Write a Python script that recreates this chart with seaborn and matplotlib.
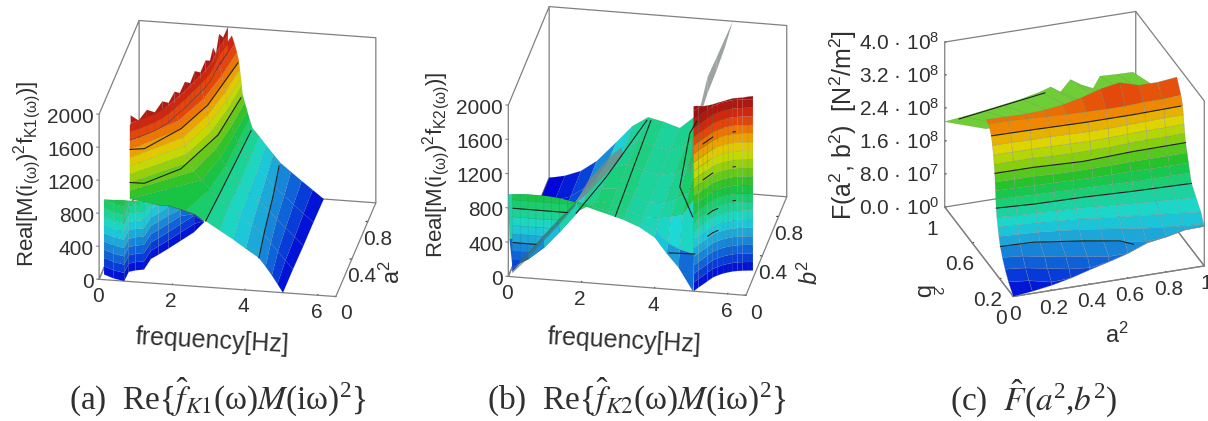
import numpy as np
import matplotlib
matplotlib.use('Agg')
import matplotlib.pyplot as plt
import seaborn as sns

# tick values and labels
freq_ticks = [0, 2, 4, 6]
freq_end = 6.5
depth_ticks = [0, 0.4, 0.8]
depth_labels = ['0', '0.4', '0.8']
real_ticks = [0, 400, 800, 1200, 1600, 2000]
c_a_ticks = [0, 0.2, 0.4, 0.6, 0.8, 1]
c_a_labels = ['0', '0.2', '0.4', '0.6', '0.8', '1']
c_b_ticks = [0, 0.2, 0.6, 1]
c_b_labels = ['0', '0.2', '0.6', '1']
c_z_ticks = [0, 0.8, 1.6, 2.4, 3.2, 4.0]
c_z_labels = ['0.0 · 10$^{0}$', '8.0 · 10$^{7}$', '1.6 · 10$^{8}$', '2.4 · 10$^{8}$', '3.2 · 10$^{8}$', '4.0 · 10$^{8}$']

# frequencies below were read against the box edge, taken as 6 sixths of the axis
to_hz = freq_end / 6

# panel a: frequency where the surface passes each level, one row per a^2
a_levels = [0, 100, 200, 300, 400, 500, 600, 700, 800, 900, 1000, 1100, 1200, 1300, 1400, 1500, 1600, 1700, 1800, 1900]
a_rows = [0, 0.25, 0.5, 0.75, 1]
a_freq = [
    [4.66, 4.52, 4.38, 4.22, 4.05, 3.72, 3.40, 3.05, 2.70, 2.20, 0.78, 0.78, 0.78, 0.78, 0.78, 0.78, 0.78, 0.78, 0.78, 0.78],
    [4.66, 4.47, 4.28, 4.10, 3.92, 3.62, 3.32, 3.03, 2.75, 2.55, 2.35, 2.15, 2.00, 1.96, 1.92, 1.87, 1.82, 1.76, 1.70, 1.63],
    [4.67, 4.45, 4.22, 4.00, 3.80, 3.55, 3.30, 3.05, 2.80, 2.70, 2.57, 2.46, 2.37, 2.33, 2.28, 2.24, 2.20, 2.15, 2.10, 2.00],
    [4.67, 4.42, 4.17, 3.93, 3.69, 3.48, 3.27, 3.05, 2.83, 2.75, 2.67, 2.60, 2.53, 2.50, 2.47, 2.43, 2.40, 2.35, 2.30, 2.22],
    [4.68, 4.40, 4.12, 3.85, 3.58, 3.40, 3.22, 3.05, 2.87, 2.80, 2.74, 2.68, 2.62, 2.60, 2.58, 2.55, 2.53, 2.48, 2.42, 2.35],
]
# jagged crest of panel a
tooth_f = [0.78, 0.95, 1.12, 1.28, 1.42, 1.53, 1.62, 1.70, 1.78, 1.85, 1.92, 2.00, 2.07, 2.12, 2.14, 2.15, 2.16, 2.20, 2.25]
tooth_a = [0.02, 0.05, 0.09, 0.13, 0.18, 0.23, 0.29, 0.34, 0.39, 0.45, 0.50, 0.56, 0.62, 0.68, 0.74, 0.80, 0.87, 0.93, 1.00]
tooth_top = [1990, 1900, 1990, 1920, 2000, 1930, 2000, 1930, 2010, 1930, 2020, 1940, 2020, 1950, 2040, 1900, 2060, 1950, 2000]
# curtain below the front edge of panel a
curtain_f = [0.07, 0.35, 0.635, 0.65, 0.80, 1.00, 1.06, 1.20, 1.38, 1.60, 1.84, 1.98]
curtain_a = [0.054, 0.02, 0.0, 0.10, 0.12, 0.135, 0.25, 0.30, 0.37, 0.46, 0.56, 0.67]
curtain_top = [909, 950, 982, 860, 840, 824, 667, 600, 521, 380, 218, 12]
curtain_levels = [0, 100, 200, 300, 400, 500, 600, 700, 800, 900, 1000]
# contour lines of panel a
a_c400 = ([4.05, 3.90, 3.75, 3.58], [0, 0.3, 0.65, 0.97], 400)
a_c800 = ([2.70, 2.76, 2.82, 2.87], [0, 0.3, 0.65, 0.97], 800)
a_c1200 = ([0.78, 1.14, 1.89, 2.45, 2.62], [0, 0.002, 0.18, 0.56, 0.96], 1200)
a_c1600 = ([0.78, 1.13, 1.82, 2.23, 2.53], [0, 0.02, 0.254, 0.52, 0.98], 1600)

# panel b: surface heights, one row per b^2, one column per frequency
b_freq = [0, 0.4, 0.8, 1.2, 1.7, 2.1, 2.5, 2.9, 3.3, 3.7, 4.0, 4.3, 4.66]
b_rows = [0, 0.03, 0.1, 0.25, 0.5, 0.75, 1]
b_heights = [
    [960, 975, 975, 960, 925, 870, 820, 770, 700, 590, 415, 262, 0],
    [400, 500, 600, 750, 900, 860, 820, 770, 705, 640, 500, 440, 400],
    [0, 100, 250, 450, 720, 840, 830, 770, 700, 700, 730, 760, 1000],
    [0, 0, 200, 500, 720, 815, 830, 760, 700, 700, 770, 850, 1050],
    [0, 0, 100, 350, 620, 770, 830, 770, 730, 770, 850, 950, 1050],
    [0, 40, 100, 230, 500, 650, 830, 760, 730, 800, 900, 1000, 1050],
    [0, 40, 110, 240, 480, 680, 800, 760, 703, 860, 950, 1000, 1050],
]
# triangle at the left of panel b
tri_f = [0.1, 0.3, 0.5, 0.7, 0.9, 1.1, 1.3, 1.5, 1.7]
tri_low = [60, 170, 280, 385, 495, 600, 710, 815, 925]
tri_top = [960, 970, 975, 975, 975, 970, 960, 945, 925]
# grey folds of panel b
fold_f = [0.1, 0.5, 0.9, 1.3, 1.7]
fold_low = [40, 230, 450, 660, 890]
fold_top = [80, 300, 520, 730, 925]
fold2_f = [1.7, 2.0, 2.3, 2.6, 2.87]
fold2_low = [923, 1040, 1200, 1360, 1500]
fold2_top = [923, 1180, 1350, 1510, 1620]
sliver_f = [3.55, 3.65, 3.75, 3.86, 4.0, 4.23, 4.44, 4.64]
sliver_low = [110, 520, 760, 930, 1135, 1410, 1690, 2000]
sliver_top = [260, 660, 850, 1050, 1325, 1565, 1790, 2000]
# right wall of panel b
wall_f = [4.68, 4.76, 4.84, 4.92, 5.01, 5.11, 5.22, 5.33, 5.44, 5.55, 5.67, 5.80, 5.92]
wall_a = [0.0, 0.04, 0.074, 0.11, 0.15, 0.175, 0.197, 0.212, 0.225, 0.233, 0.24, 0.245, 0.25]
wall_top = [2160, 2120, 2080, 2050, 2020, 2015, 2010, 2015, 2020, 2020, 2020, 2030, 2035]
wall_levels = [0, 100, 200, 300, 400, 500, 600, 700, 800, 900, 1000, 1100, 1200, 1300, 1400, 1500, 1600, 1700, 1800, 1900, 2000, 2100, 2200]
# contour lines of panel b
b_lines = [
    ([2.70, 2.60], [0, 0.97], [800, 800]),
    ([1.71, 2.08, 2.50], [0, 0.38, 0.97], [800, 800, 800]),
    ([4.60, 3.98, 3.68, 3.73], [0.056, 0.34, 0.875, 1.0], [800, 800, 800, 800]),
    ([0.12, 0.8, 1.5], [0, 0, 0], [800, 800, 800]),
    ([0.12, 0.4, 0.7], [0, 0, 0], [400, 400, 400]),
    ([4.03, 4.35, 4.68], [0.02, 0.025, 0.03], [400, 400, 400]),
    ([4.92, 5.01, 5.11], [0.11, 0.15, 0.175], [523, 523, 523]),
    ([4.92, 5.01, 5.11], [0.11, 0.15, 0.175], [780, 780, 780]),
    ([4.84, 4.92, 5.01], [0.074, 0.11, 0.15], [1220, 1220, 1220]),
    ([4.84, 4.92, 5.01], [0.074, 0.11, 0.15], [1640, 1640, 1640]),
    ([5.44, 5.50], [0.225, 0.23], [825, 825]),
    ([5.44, 5.50], [0.225, 0.23], [1220, 1220]),
    ([5.44, 5.50], [0.225, 0.23], [1628, 1628]),
]

# panel c: b^2 where the surface passes each level, one row per level
c_columns = [0, 0.1, 0.2, 0.3, 0.4, 0.5, 0.6, 0.7, 0.8, 0.9, 1]
c_levels = [0, 0.2, 0.4, 0.6, 0.8, 1.0, 1.2, 1.4, 1.6, 1.8, 2.0, 2.2, 2.4, 2.6, 2.8, 3.0, 3.2, 3.4, 3.9]
c_b = [
    [0, 0, 0, 0, 0, 0, 0, 0, 0, 0, 0],
    [0.07, 0.05, 0, 0, 0, 0, 0, 0, 0, 0, 0],
    [0.12, 0.10, 0.06, 0.02, 0, 0, 0, 0, 0, 0, 0],
    [0.16, 0.14, 0.10, 0.07, 0.03, 0, 0, 0, 0, 0, 0],
    [0.19, 0.18, 0.17, 0.145, 0.115, 0.08, 0.04, 0.01, 0, 0, 0],
    [0.21, 0.20, 0.19, 0.17, 0.15, 0.12, 0.09, 0.06, 0.04, 0.02, 0.01],
    [0.225, 0.215, 0.205, 0.19, 0.175, 0.15, 0.13, 0.11, 0.09, 0.07, 0.05],
    [0.24, 0.225, 0.22, 0.21, 0.20, 0.185, 0.17, 0.155, 0.145, 0.13, 0.12],
    [0.25, 0.24, 0.23, 0.225, 0.22, 0.21, 0.205, 0.20, 0.195, 0.19, 0.185],
    [0.255, 0.25, 0.24, 0.235, 0.23, 0.225, 0.22, 0.215, 0.21, 0.21, 0.21],
    [0.26, 0.255, 0.25, 0.245, 0.24, 0.235, 0.235, 0.235, 0.23, 0.23, 0.23],
    [0.265, 0.26, 0.26, 0.25, 0.245, 0.245, 0.245, 0.25, 0.25, 0.25, 0.25],
    [0.27, 0.27, 0.268, 0.26, 0.25, 0.25, 0.255, 0.265, 0.265, 0.27, 0.272],
    [0.28, 0.28, 0.28, 0.27, 0.265, 0.265, 0.265, 0.275, 0.28, 0.28, 0.285],
    [0.29, 0.29, 0.29, 0.285, 0.28, 0.275, 0.28, 0.285, 0.29, 0.29, 0.295],
    [0.305, 0.305, 0.30, 0.30, 0.295, 0.29, 0.29, 0.295, 0.30, 0.305, 0.305],
    [0.32, 0.32, 0.315, 0.31, 0.305, 0.305, 0.305, 0.305, 0.31, 0.31, 0.315],
    [0.36, 0.36, 0.35, 0.34, 0.33, 0.325, 0.32, 0.32, 0.33, 0.33, 0.34],
    [0.40, 0.40, 0.40, 0.40, 0.40, 0.40, 0.40, 0.40, 0.40, 0.40, 0.40],
]
c_front = [0, 0.05, 0.12, 0.22, 0.35, 0.47, 0.60, 0.78, 0.85, 0.95, 0.96]
c_crest = [3.42, 3.41, 3.40, 3.42, 3.48, 3.58, 3.72, 3.80, 3.66, 3.66, 3.71]
# lime flap behind the crest of panel c
flap_a = [0, 0.1, 0.2, 0.3, 0.4, 0.5, 0.554, 0.606, 0.658, 0.72, 0.777, 0.813, 0.9, 0.985]
flap_back = [2.07, 2.12, 2.18, 2.25, 2.32, 2.42, 2.50, 2.34, 2.60, 2.42, 2.30, 2.57, 2.55, 2.54]
flap_front = [3.2, 3.2, 3.2, 3.2, 3.2, 3.2, 3.2, 3.2, 3.2, 3.2, 3.2, 3.2, 3.2, 3.2]
flap_rows = [0.4, 1.0]
# contour lines of panel c
c_lines = [
    ([0, 0.17, 0.408, 0.579, 0.63], [0.19, 0.18, 0.113, 0.054, 0], 0.8),
    ([0, 0.19, 0.447, 0.70, 1.0], [0.25, 0.23, 0.22, 0.20, 0.185], 1.6),
    ([0, 0.204, 0.456, 0.72, 1.0], [0.27, 0.268, 0.248, 0.267, 0.272], 2.4),
    ([0, 0.22, 0.477, 0.736, 0.99], [0.32, 0.315, 0.305, 0.305, 0.315], 3.2),
]
flap_line_a = [0.05, 0.2, 0.35, 0.5]
flap_line_b = [0.93, 0.93, 0.93, 0.93]
flap_line_z = [2.25, 2.35, 2.45, 2.55]

W, H = 1208, 421

sns.set_theme(style='white')
plt.rcParams['font.family'] = ['Liberation Sans', 'DejaVu Sans']
plt.rcParams['mathtext.fontset'] = 'custom'
plt.rcParams['mathtext.rm'] = 'Liberation Sans'
plt.rcParams['mathtext.it'] = 'Liberation Sans:italic'
plt.rcParams['mathtext.default'] = 'regular'

rainbow = sns.blend_palette(['#0000d8', '#0a50d8', '#1c9bd8', '#1cd8d8', '#1cd080', '#18c030',
                             '#7ccc10', '#dcdc00', '#f09000', '#e03010', '#a01010'], n_colors=256, as_cmap=True)
mesh = dict(rstride=1, cstride=1, cmap=rainbow, edgecolor=(0.3, 0.3, 0.3, 0.22), linewidth=0.3)
grey = '#808080'
ink = '#303030'

fig = plt.figure(figsize=(W / 100, H / 100), dpi=100)


def hz(values):
    return np.array(values) * to_hz


def make_axes(cx, cy, size, lengths, elev, azim, xlim, ylim, zlim):
    ax = fig.add_axes([(cx - size / 2) / W, 1 - (cy + size / 2) / H, size / W, size / H],
                      projection='3d', proj_type='ortho', computed_zorder=False)
    ax.patch.set_alpha(0)
    ax.set_box_aspect(lengths)
    ax.view_init(elev=elev, azim=azim)
    ax.set_xlim(*xlim, view_margin=0)
    ax.set_ylim(*ylim, view_margin=0)
    ax.set_zlim(*zlim, view_margin=0)
    ax.grid(False)
    for axis in (ax.xaxis, ax.yaxis, ax.zaxis):
        axis.pane.set_facecolor((1, 1, 1, 0))
        axis.pane.set_edgecolor((1, 1, 1, 0))
        axis.line.set_color((1, 1, 1, 0))
        axis.label.set_visible(False)
        axis.offsetText.set_visible(False)
        axis._axinfo['tick']['color'] = grey
        axis._axinfo['tick']['linewidth'] = {True: 0.8, False: 0.5}
        axis._axinfo['tick']['inward_factor'] = 0.0
        axis._axinfo['tick']['outward_factor'] = 0.1
    ax.tick_params(labelsize=15, colors=ink)
    return ax


def draw_box(ax, corners):
    # outline of the floor and the two back walls
    (x0, x1), (y0, y1), (z0, z1) = ax.get_xlim(), ax.get_ylim(), ax.get_zlim()
    for back_x in corners:
        other = x1 if back_x == x0 else x0
        ax.plot([other, back_x, back_x, other, other], [y0, y0, y1, y1, y0], [z0] * 5, color=grey, lw=0.9, zorder=0.5)
        ax.plot([back_x, back_x, back_x, back_x, back_x], [y0, y0, y1, y1, y0], [z0, z1, z1, z0, z0], color=grey, lw=0.9, zorder=0.5)
        ax.plot([back_x, other, other], [y1, y1, y1], [z1, z1, z0], color=grey, lw=0.9, zorder=0.5)


def fence(ax, base_x, base_y, levels, low, top, vmax, z):
    levels = np.array(levels)[:, None]
    X = np.tile(base_x, (len(levels), 1))
    Y = np.tile(base_y, (len(levels), 1))
    Z = np.clip(levels, low, top)
    ax.plot_surface(X, Y, Z, vmin=0, vmax=vmax, zorder=z, **mesh)


def grey_fold(ax, xs, y, low, top, z, color='#7c8680', alpha=0.75):
    X = np.array([xs, xs])
    Y = np.full(X.shape, y)
    Z = np.array([low, top])
    ax.plot_surface(X, Y, Z, color=color, alpha=alpha, shade=False, zorder=z, linewidth=0)


def real_axis(ax):
    # the 3d z axis cannot sit on this corner, so its ticks and labels are placed by hand
    ax.set_xticks(freq_ticks)
    ax.set_yticks(depth_ticks, labels=depth_labels)
    ax.set_zticks([])
    ax.tick_params(axis='x', pad=-4)
    ax.tick_params(axis='y', pad=-2)
    for value in real_ticks:
        ax.plot([0, -0.07], [0, 0], [value, value], color=grey, lw=0.8, zorder=0.5)
        ax.text(-0.14, 0, value - 40, str(value), ha='right', va='center', fontsize=15, color=ink)


# ---- panel a
ax = make_axes(232.5, 163.5, 368, (240, 230, 181), 24.4, -80, (0, freq_end), (0, 1), (0, 2000))
draw_box(ax, [0])
X = hz(a_freq)
Y = np.tile(np.array(a_rows)[:, None], (1, len(a_levels)))
Z = np.tile(a_levels, (len(a_rows), 1))
ax.plot_surface(X, Y, Z, vmin=0, vmax=2000, zorder=2, **mesh)
fence(ax, hz(tooth_f), tooth_a, a_levels + [2100], 1700, tooth_top, 2000, 3)
fence(ax, hz(curtain_f), curtain_a, curtain_levels, 0, curtain_top, 2000, 4)
for fs, ds, level in (a_c400, a_c800, a_c1200, a_c1600):
    ax.plot(hz(fs), ds, [level] * len(fs), color='#202020', lw=0.8, zorder=5)
real_axis(ax)

# ---- panel b
ax = make_axes(642.5, 156, 372, (242, 229, 191), 26, -79.7, (0, freq_end), (0, 1), (0, 2000))
draw_box(ax, [0])
X, Y = np.meshgrid(hz(b_freq), b_rows)
ax.plot_surface(X, Y, np.array(b_heights), vmin=0, vmax=2000, zorder=2, **mesh)
fence(ax, hz(tri_f), [0] * len(tri_f), curtain_levels, tri_low, tri_top, 2000, 3)
grey_fold(ax, hz(fold_f), 0, fold_low, fold_top, 4, color='#3f6f68', alpha=0.6)
grey_fold(ax, hz(fold2_f), 0, fold2_low, fold2_top, 4)
grey_fold(ax, hz(sliver_f), 1, sliver_low, sliver_top, 4)
fence(ax, hz(wall_f), wall_a, wall_levels, 0, wall_top, 2000, 5)
for fs, ds, zs in b_lines:
    ax.plot(hz(fs), ds, zs, color='#202020', lw=0.8, zorder=6)
real_axis(ax)

# ---- panel c
ax = make_axes(1070, 158.5, 334, (204, 209, 187), 27.2, -109.3, (0, 1), (0, 1), (0, 4))
draw_box(ax, [1])
X = np.array([flap_a, flap_a])
Y = np.array([[flap_rows[0]] * len(flap_a), [flap_rows[1]] * len(flap_a)])
Z = np.array([flap_front, flap_back])
ax.plot_surface(X, Y, Z, color='#6fce35', shade=False, rstride=1, cstride=1,
                edgecolor=(0.3, 0.5, 0.2, 0.5), linewidth=0.3, zorder=1)
ax.plot(flap_line_a, flap_line_b, flap_line_z, color='#202020', lw=0.8, zorder=1.5)
X = np.tile(c_columns, (len(c_levels), 1))
Y = np.array(c_b)
Z = np.clip(np.array(c_levels)[:, None], c_front, c_crest)
ax.plot_surface(X, Y, Z, rstride=1, cstride=1, cmap=rainbow, vmin=0, vmax=4.1,
                edgecolor=(0.5, 0.5, 0.5, 0.45), linewidth=0.4, zorder=2)
for fs, ds, level in c_lines:
    ax.plot(fs, ds, [level] * len(fs), color='#202020', lw=0.8, zorder=3)
ax.plot([0, 1], [0, 0], [0, 0], color=grey, lw=0.9, zorder=0.5)
ax.plot([0, 0], [0, 1], [0, 0], color=grey, lw=0.9, zorder=0.5)
ax.set_xticks(c_a_ticks, labels=c_a_labels)
ax.set_yticks(c_b_ticks, labels=c_b_labels)
ax.set_zticks(c_z_ticks, labels=c_z_labels)
ax.tick_params(axis='x', pad=-4)
ax.tick_params(axis='y', pad=0)
ax.tick_params(axis='z', pad=14)


# ---- axis names and captions
def label(x, y, text, size=15, rotation=0, **kw):
    fig.text(x / W, 1 - y / H, text, fontsize=size, rotation=rotation, ha='center', va='center',
             rotation_mode='anchor', color=ink, **kw)


real_a = 'Real[M(i$_{(\\omega)}$)$^{2}$f$_{K1}$$_{(\\omega)}$)]'
real_b = 'Real[M(i$_{(\\omega)}$)$^{2}$f$_{K2}$$_{(\\omega)}$)]'
label(27, 174, real_a, size=16, rotation=90)
label(436, 165, real_b, size=16, rotation=90)
label(212, 341, 'frequency[Hz]', size=18, rotation=-3)
label(624, 341, 'frequency[Hz]', size=18, rotation=-3)
label(392, 272, 'a$^{2}$', size=17, rotation=90)
label(810, 272, '$\\mathit{b}^{2}$', size=17, rotation=90)
label(843, 125, 'F(a$^{2}$, b$^{2}$)  [N$^{2}$/m$^{2}$]', size=18, rotation=90)
label(921, 292, 'b', size=17, rotation=-90)
label(936, 290, '2', size=11, rotation=-90)
label(1117, 335, 'a$^{2}$', size=17)

serif = dict(family=['Liberation Serif', 'DejaVu Serif'], math_fontfamily='stix')
label(218, 397, '(a)  Re{$\\hat{\\mathit{f}}_{\\mathit{K1}}$(ω)$\\mathit{M}$(iω)$^{2}$}', size=24, **serif)
label(637, 397, '(b)  Re{$\\hat{\\mathit{f}}_{\\mathit{K2}}$(ω)$\\mathit{M}$(iω)$^{2}$}', size=24, **serif)
label(1034, 398, '(c)  $\\hat{\\mathit{F}}$($\\mathit{a}^{2}$,$\\mathit{b}^{2}$)', size=24, **serif)

fig.savefig('out.png', dpi=100)
